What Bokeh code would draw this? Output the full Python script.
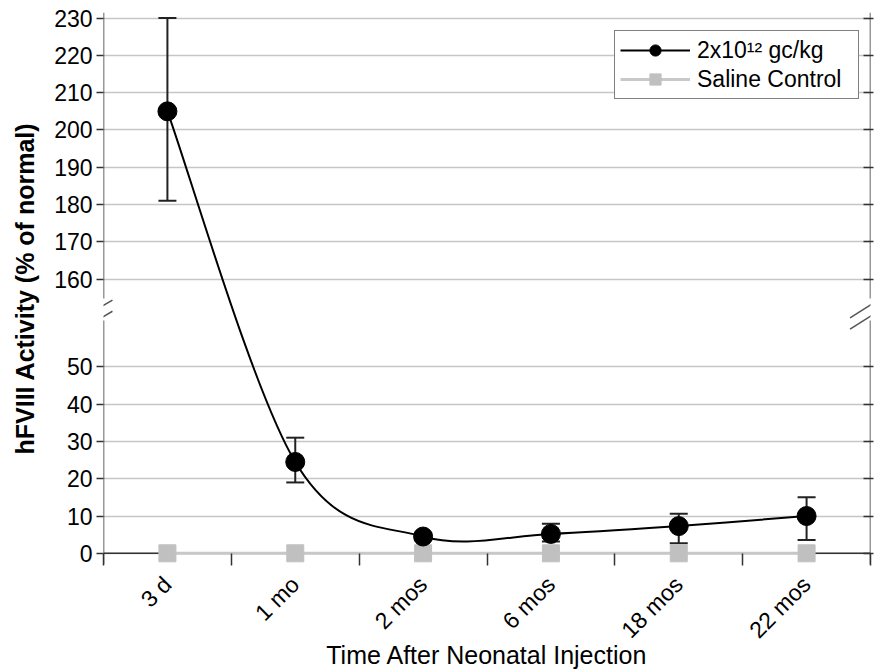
import math
from bokeh.plotting import figure
from bokeh.models import (ColumnDataSource, FixedTicker, LinearAxis, Range1d, Span,
                          Whisker, TeeHead, Arrow, Legend, LegendItem)
from bokeh.embed import file_html
from bokeh.resources import INLINE

# ---------------- data ----------------
categories = ["3 d", "1 mo", "2 mos", "6 mos", "18 mos", "22 mos"]
treated_mean = [205, 24.5, 4.5, 5.2, 7.3, 10]
treated_upper = [230, 31, 5.5, 7.9, 10.6, 15]
treated_lower = [181, 19, 3.5, 3.2, 2.7, 3.6]
saline_mean = [0, 0, 0, 0, 0, 0]
lower_ticks = [0, 10, 20, 30, 40, 50]
upper_ticks = [160, 170, 180, 190, 200, 210, 220, 230]

# ---------------- broken-axis mapping ----------------
OFFSET = 86.5      # upper segment values are shifted down by this amount
SPLIT = 100        # values above this belong to the upper segment
GAP_LO, GAP_HI = 62.4, 68.3   # axis gap (plot units)
BREAK_C = 64.0
Y0, Y1 = -3, 145


def tr(v):
    return v - OFFSET if v > SPLIT else v


xs = [i + 0.5 for i in range(len(categories))]
ty = [tr(v) for v in treated_mean]

# Catmull-Rom smoothing through the data points (drawn as Bezier segments)
n = len(xs)
bz = dict(x0=[], y0=[], x1=[], y1=[], cx0=[], cy0=[], cx1=[], cy1=[])
for i in range(n - 1):
    pm, pp = max(i - 1, 0), min(i + 2, n - 1)
    bz["x0"].append(xs[i]); bz["y0"].append(ty[i])
    bz["x1"].append(xs[i + 1]); bz["y1"].append(ty[i + 1])
    bz["cx0"].append(xs[i] + (xs[i + 1] - xs[pm]) / 6)
    bz["cy0"].append(ty[i] + (ty[i + 1] - ty[pm]) / 6)
    bz["cx1"].append(xs[i + 1] - (xs[pp] - xs[i]) / 6)
    bz["cy1"].append(ty[i + 1] - (ty[pp] - ty[i]) / 6)

FONT = "Liberation Sans"
AX = "#333333"
GRID = "#c6c6c6"

p = figure(width=876, height=672, x_range=Range1d(0, 6), y_range=Range1d(Y0, Y1),
           output_backend="svg", toolbar_location=None,
           min_border_left=103, min_border_right=6, min_border_top=12, min_border_bottom=108)
p.outline_line_color = None
p.background_fill_color = "white"
p.border_fill_color = "white"

# y axis (left)
all_ticks = lower_ticks + upper_ticks
yt = FixedTicker(ticks=[tr(v) for v in all_ticks], minor_ticks=[])
ya = p.yaxis[0]
ya.ticker = yt
ya.major_label_overrides = {tr(v): str(v) for v in all_ticks}
ya.axis_line_color = None
ya.major_tick_in = 0
ya.major_tick_out = 7
ya.major_tick_line_color = AX
ya.major_tick_line_width = 1.5
ya.minor_tick_line_color = None
ya.major_label_standoff = 4
ya.major_label_text_font = FONT
ya.major_label_text_font_size = "23px"
ya.major_label_text_color = "black"
ya.axis_label = "hFVIII Activity (% of normal)"
ya.axis_label_text_font = FONT
ya.axis_label_text_font_size = "25px"
ya.axis_label_text_font_style = "bold"
ya.axis_label_text_color = "black"
ya.axis_label_standoff = 12

p.ygrid[0].ticker = yt
p.ygrid[0].grid_line_color = GRID
p.ygrid[0].grid_line_width = 1.5
p.xgrid[0].grid_line_color = None

# right axis: ticks only
ra = LinearAxis(ticker=yt, axis_line_color=None, major_tick_in=7, major_tick_out=3,
                major_tick_line_color=AX, major_tick_line_width=1.5,
                minor_tick_line_color=None,
                major_label_overrides={tr(v): "" for v in all_ticks},
                major_label_standoff=0)
p.add_layout(ra, "right")

# x axis
xa = p.xaxis[0]
xa.ticker = FixedTicker(ticks=xs, minor_ticks=list(range(len(categories) + 1)))
xa.major_label_overrides = {x: c for x, c in zip(xs, categories)}
xa.axis_line_color = None
xa.major_tick_in = 0
xa.major_tick_out = 0
xa.minor_tick_in = 11
xa.minor_tick_out = 1
xa.minor_tick_line_color = AX
xa.minor_tick_line_width = 1.5
xa.major_label_orientation = math.pi / 4
xa.major_label_standoff = 15
xa.major_label_text_font = FONT
xa.major_label_text_font_size = "23px"
xa.major_label_text_color = "black"
xa.axis_label = "Time After Neonatal Injection"
xa.axis_label_text_font = FONT
xa.axis_label_text_font_size = "25px"
xa.axis_label_text_font_style = "normal"
xa.axis_label_text_color = "black"
xa.axis_label_standoff = -14

# x axis line at 0
p.add_layout(Span(location=0, dimension="width", line_color=AX, line_width=1.5, level="underlay"))


def seg(x0, y0, x1, y1, w=1.5, c=AX):
    p.add_layout(Arrow(end=None, x_start=x0, y_start=y0, x_end=x1, y_end=y1,
                       line_color=c, line_width=w))


# broken vertical axis lines (left and right) and break marks
for xa_pos, dx0, dx1 in [(0, -0.17, 0.07), (6, -0.16, 0.06)]:
    seg(xa_pos, Y0, xa_pos, GAP_LO)
    seg(xa_pos, GAP_HI, xa_pos, Y1)
    for k in (1.5, -1.5):
        seg(xa_pos + dx0, BREAK_C + k - 2.4, xa_pos + dx1, BREAK_C + k + 2.4, w=1.5, c="#555555")

# saline control
sal_line = p.line(xs, saline_mean, line_color="#c8c8c8", line_width=3)
sal_sq = p.scatter(xs, saline_mean, marker="square", size=17, fill_color="#c0c0c0",
                   line_color="#c0c0c0")

# treated group
bsrc = ColumnDataSource(bz)
bez = p.bezier(x0="x0", y0="y0", x1="x1", y1="y1", cx0="cx0", cy0="cy0", cx1="cx1", cy1="cy1",
               source=bsrc, line_color="black", line_width=2)
esrc = ColumnDataSource(dict(x=xs, upper=[tr(v) for v in treated_upper],
                             lower=[tr(v) for v in treated_lower]))
p.add_layout(Whisker(source=esrc, base="x", upper="upper", lower="lower", dimension="height",
                     line_color="#222222", line_width=2,
                     upper_head=TeeHead(size=18, line_color="#222222", line_width=2),
                     lower_head=TeeHead(size=18, line_color="#222222", line_width=2)))
circ = p.scatter(xs, ty, marker="circle", size=19, fill_color="black", line_color="black")

legend = Legend(items=[LegendItem(label="2x10\u00b9\u00b2 gc/kg", renderers=[bez, circ]),
                       LegendItem(label="Saline Control", renderers=[sal_line, sal_sq])],
                location=(511, 465), margin=0, padding=5, spacing=1,
                glyph_width=70, glyph_height=28, label_height=28, label_width=156,
                label_standoff=7, label_text_font=FONT, label_text_font_size="23px",
                label_text_color="black", border_line_color="black", border_line_width=1,
                background_fill_color="white", background_fill_alpha=1)
p.add_layout(legend)

open("out.html", "w").write(file_html(p, INLINE))
